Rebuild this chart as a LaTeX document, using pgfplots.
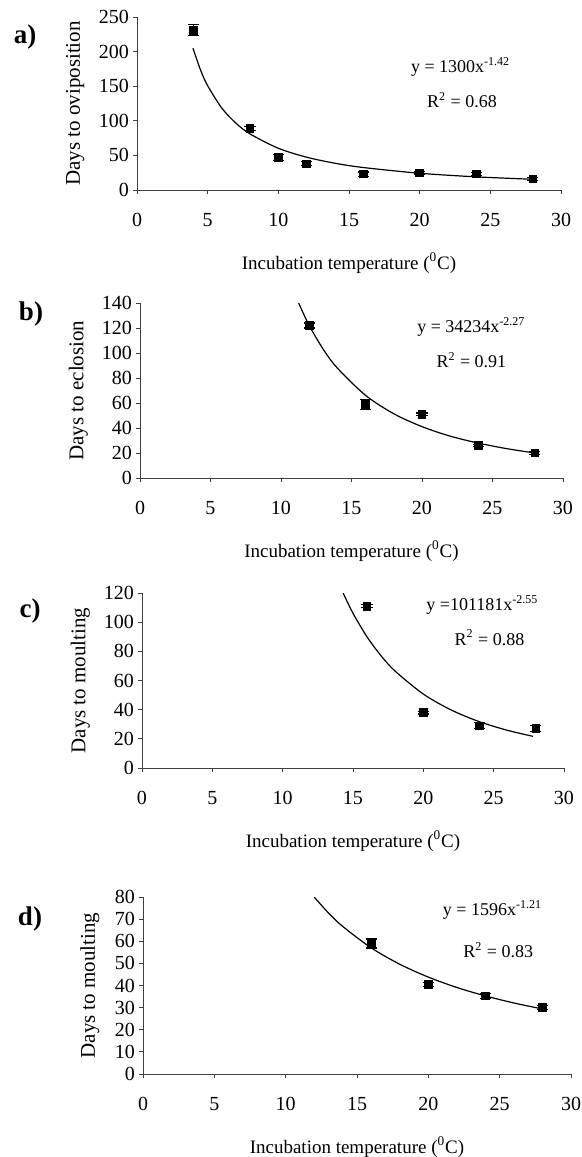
\documentclass[border=0pt]{standalone}
\usepackage{fontspec}
\setmainfont{Liberation Serif}
\usepackage{pgfplots}
\pgfplotsset{compat=1.18}

\pgfplotsset{
  panel/.style={
    scale only axis,
    anchor=north west,
    axis lines=left,
    axis line style={-, black!75, line width=0.5pt},
    xmin=0, xmax=30, xtick={0,5,...,30},
    ymin=0,
    tick align=outside,
    major tick length=2pt,
    tick style={black!75, line width=0.4pt},
    ticklabel style={font=\fontsize{10}{12}\selectfont},
    /pgf/number format/assume math mode=true,
    xticklabel style={yshift=-6pt},
    yticklabel style={xshift=1.5pt},
    xlabel={Incubation temperature (\textsuperscript{0}C)},
    xlabel style={at={(axis description cs:0.5,0)}, anchor=center, yshift=-36.5pt,
      font=\fontsize{9.5}{11}\selectfont},
    ylabel style={anchor=center, font=\fontsize{10.5}{12}\selectfont},
  },
  fitline/.style={black, line width=0.6pt, no marks, smooth},
  obs/.style={only marks, mark=square*, mark size=1.9pt, black,
    error bars/.cd, y dir=both, y explicit,
    error bar style={line width=0.6pt},
    error mark options={rotate=90, mark size=2.8pt, line width=0.6pt}},
}
\tikzset{
  eq/.style={font=\fontsize{9}{11}\selectfont, anchor=center},
  plab/.style={font=\fontsize{13.5}{15}\selectfont\bfseries, anchor=center},
}

\begin{document}
\begin{tikzpicture}
\useasboundingbox (0,0) rectangle (291pt,-578.5pt);

% panel labels
\node[plab] at (12.5pt,-18.5pt) {a)};
\node[plab] at (15.5pt,-157pt) {b)};
\node[plab] at (15pt,-305.5pt) {c)};
\node[plab] at (15pt,-459.5pt) {d)};

% a) oviposition
\begin{axis}[panel, at={(68.5pt,-8.5pt)}, width=212pt, height=86.5pt,
    ymax=250, ytick={0,50,...,250},
    ylabel={Days to oviposition},
    ylabel style={at={(axis description cs:-0.146,0.5)}}]
\addplot[fitline] coordinates {
(3.96,205) (4.5,173.1) (5,150.7) (6,118.4) (7,96.6) (8,81) (10,60.3)
(12,47.4) (14,38.7) (16,32.5) (20,24.2) (24,19) (28,15.5)
};
\addplot[obs] coordinates {
(4,231) +- (0,8)
(8,89) +- (0,3)
(10,47) +- (0,4)
(12,38) +- (0,3)
(16,23) +- (0,3)
(20,25) +- (0,2)
(24,23) +- (0,2)
(28,16) +- (0,2)
};
\node[eq] at (axis cs:22.9,177.7) {y = 1300x\textsuperscript{-1.42}};
\node[eq] at (axis cs:23.0,130) {R\textsuperscript{2} = 0.68};
\end{axis}

% b) eclosion
\begin{axis}[panel, at={(70pt,-151.5pt)}, width=211.5pt, height=87.5pt,
    ymax=140, ytick={0,20,...,140},
    ylabel={Days to eclosion},
    ylabel style={at={(axis description cs:-0.146,0.5)}}]
\addplot[fitline] coordinates {
(11.25,140) (12,122) (13,102.9) (14,87.9) (16,66.1) (18,51.4) (20,41.1)
(22,33.5) (24,27.9) (26,23.5) (28,20)
};
\addplot[obs] coordinates {
(12,122) +- (0,2)
(16,59) +- (0,4)
(20,51) +- (0,1)
(24,26) +- (0,1)
(28,20) +- (0,1)
};
\node[eq] at (axis cs:23.5,120.8) {y = 34234x\textsuperscript{-2.27}};
\node[eq] at (axis cs:23.5,94.4) {R\textsuperscript{2} = 0.91};
\end{axis}

% c) moulting
\begin{axis}[panel, at={(71pt,-296.5pt)}, width=211pt, height=87.5pt,
    ymax=120, ytick={0,20,...,120},
    ylabel={Days to moulting},
    ylabel style={at={(axis description cs:-0.146,0.5)}}]
\addplot[fitline] coordinates {
(14.3,120) (15,106.1) (16,89.9) (17,76.9) (18,66.4) (20,50.7) (22,39.7)
(24,31.7) (26,25.8) (27.8,21.7)
};
\addplot[obs] coordinates {
(16,111) +- (0,1)
(20,38) +- (0,1)
(24,29) +- (0,2)
(28,27) +- (0,2)
};
\node[eq] at (axis cs:24.2,111.8) {y =101181x\textsuperscript{-2.55}};
\node[eq] at (axis cs:24.7,89.2) {R\textsuperscript{2} = 0.88};
\end{axis}

% d) moulting
\begin{axis}[panel, at={(71.5pt,-448.5pt)}, width=214pt, height=88.5pt,
    ymax=80, ytick={0,10,...,80},
    ylabel={Days to moulting},
    ylabel style={at={(axis description cs:-0.124,0.5)}}]
\addplot[fitline] coordinates {
(12,80) (13,72.8) (14,66.7) (16,57) (18,49.6) (20,43.8) (22,39.1)
(24,35.3) (26,32.1) (28,29.4)
};
\addplot[obs] coordinates {
(16,59) +- (0,2)
(20,40.5) +- (0,1)
(24,35.3) +- (0,1)
(28,30) +- (0,1)
};
\node[eq] at (axis cs:24.5,74.1) {y = 1596x\textsuperscript{-1.21}};
\node[eq] at (axis cs:24.9,56) {R\textsuperscript{2} = 0.83};
\end{axis}
\end{tikzpicture}
\end{document}
